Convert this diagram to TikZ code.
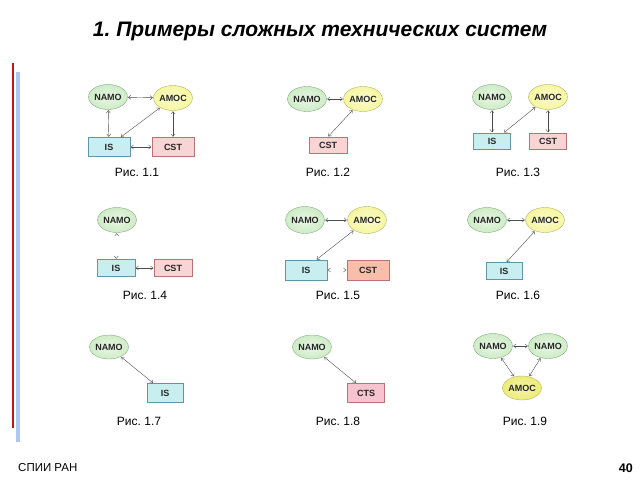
\documentclass[tikz,border=0pt]{standalone}
\usepackage{fontspec}
\setmainfont{Liberation Sans}
\usepackage{tikz}
\usetikzlibrary{shapes,arrows.meta,positioning}
\frenchspacing

\definecolor{namoFill}{RGB}{206,236,198}
\definecolor{namoDraw}{RGB}{130,172,130}
\definecolor{amocFill}{RGB}{246,246,160}
\definecolor{amocDraw}{RGB}{180,180,100}
\definecolor{amocDeep}{RGB}{236,236,120}
\definecolor{isFill}{RGB}{200,238,240}
\definecolor{isDraw}{RGB}{95,150,165}
\definecolor{cstFill}{RGB}{248,212,212}
\definecolor{cstDraw}{RGB}{185,115,115}
\definecolor{cstSalmon}{RGB}{248,190,170}
\definecolor{ctsFill}{RGB}{246,196,206}
\definecolor{barRed}{RGB}{200,20,25}
\definecolor{barBlue}{RGB}{170,200,240}

\begin{document}
\begin{tikzpicture}[
	x=1pt, y=-1pt,
		nodetext/.style={
			font=\fontsize{9}{10}\selectfont\bfseries,
			text=black!85,
			inner sep=0pt
		},
		namo/.style={
			nodetext,
			ellipse,
			draw=namoDraw,
			inner color=white!55!namoFill,
			outer color=namoFill,
			minimum width=33,
			minimum height=25
		},
		amoc/.style={
			namo,
			draw=amocDraw,
			inner color=white!50!amocFill,
			outer color=amocFill
		},
		sysbox/.style={
			nodetext,
			rectangle,
			draw=isDraw,
			fill=isFill,
			minimum width=40,
			minimum height=18
		},
		cst/.style={
			sysbox,
			draw=cstDraw,
			fill=cstFill
		},
		caption/.style={
			font=\fontsize{12}{14}\selectfont
		},
		link/.style={
			{Straight Barb[length=2.5pt,width=4pt]}-{Straight Barb[length=2.5pt,width=4pt]},
			draw=black!70,
			line width=0.4pt,
			shorten <=0.5pt,
			shorten >=0.5pt
		},
		tipsonly/.style={
			link,
			dash pattern=on 0pt off 100pt
		}
	]
	\useasboundingbox (0,0) rectangle (640,480);

	% Title
	\node[font=\fontsize{21}{25}\selectfont\bfseries\itshape] (title) at (320,31)
		{1. Примеры сложных технических систем};

	% Side bars
	\coordinate (redtop) at (13,63);
	\coordinate (redbot) at (13,428);
	\coordinate (bluetop) at (18,72);
	\coordinate (bluebot) at (18,442);
	\draw[barRed, line width=2.5] (redtop) -- (redbot);
	\draw[barBlue, line width=3.5] (bluetop) -- (bluebot);

	% Fig. 1.1
	\node[namo] (namoA) at (108,97) {NAMO};
	\node[amoc] (amocA) at (173,98) {AMOC};
	\node[sysbox, minimum width=42, minimum height=19] (isA) at (109,147) {IS};
	\node[cst, minimum width=42, minimum height=19] (cstA) at (173,147) {CST};
	\draw[link] (namoA) -- (amocA);
	\draw[link] (namoA) -- (isA);
	\draw[link] (amocA) -- (isA.40);
	\draw[link] (amocA) -- (cstA);
	\draw[link] (isA) -- (cstA);
	\node[caption] (capA) at (137,172) {Рис. 1.1};

	% Fig. 1.2
	\node[namo] (namoB) at (307,99) {NAMO};
	\node[amoc] (amocB) at (363,99) {AMOC};
	\node[cst, minimum width=38, minimum height=16] (cstB) at (328,145) {CST};
	\draw[link] (namoB) -- (amocB);
	\draw[link] (amocB) -- (cstB.north);
	\node[caption] (capB) at (328,172) {Рис. 1.2};

	% Fig. 1.3
	\node[namo, minimum width=31] (namoC) at (492,97) {NAMO};
	\node[amoc, minimum width=31] (amocC) at (548,97) {AMOC};
	\node[sysbox, minimum width=37, minimum height=16] (isC) at (492,141) {IS};
	\node[cst, minimum width=37, minimum height=16] (cstC) at (548,141) {CST};
	\draw[link] (namoC) -- (isC);
	\draw[link] (amocC) -- (isC.35);
	\draw[link] (amocC) -- (cstC);
	\node[caption] (capC) at (518,172) {Рис. 1.3};

	% Fig. 1.4
	\node[namo] (namoD) at (117,220) {NAMO};
	\node[sysbox, minimum width=38, minimum height=17] (isD) at (116,268) {IS};
	\node[cst, minimum width=38, minimum height=17] (cstD) at (173,268) {CST};
	\draw[tipsonly] (namoD) -- (isD);
	\draw[link] (isD) -- (cstD);
	\node[caption] (capD) at (145,295) {Рис. 1.4};

	% Fig. 1.5
	\node[namo, minimum width=37, minimum height=27] (namoE) at (305,220) {NAMO};
	\node[amoc, minimum width=37, minimum height=27] (amocE) at (367,220) {AMOC};
	\node[sysbox, minimum width=42, minimum height=20] (isE) at (306,270) {IS};
	\node[cst, fill=cstSalmon, minimum width=42, minimum height=20] (cstE) at (368,270) {CST};
	\draw[link] (namoE) -- (amocE);
	\draw[link] (amocE) -- (isE.45);
	\draw[tipsonly] (isE) -- (cstE);
	\node[caption] (capE) at (338,295) {Рис. 1.5};

	% Fig. 1.6
	\node[namo] (namoF) at (487,220) {NAMO};
	\node[amoc] (amocF) at (545,220) {AMOC};
	\node[sysbox, minimum width=36, minimum height=17] (isF) at (504,271) {IS};
	\draw[link] (namoF) -- (amocF);
	\draw[link] (amocF) -- (isF.75);
	\node[caption] (capF) at (518,295) {Рис. 1.6};

	% Fig. 1.7
	\node[namo, minimum width=31, minimum height=24] (namoG) at (109,347) {NAMO};
	\node[sysbox, minimum width=36, minimum height=19] (isG) at (165,393) {IS};
	\draw[link] (namoG) -- (isG.140);
	\node[caption] (capG) at (139,421) {Рис. 1.7};

	% Fig. 1.8
	\node[namo, minimum width=31, minimum height=24] (namoH) at (312,347) {NAMO};
	\node[cst, fill=ctsFill, minimum width=37, minimum height=19] (ctsH) at (366,393) {CTS};
	\draw[link] (namoH) -- (ctsH.135);
	\node[caption] (capH) at (338,421) {Рис. 1.8};

	% Fig. 1.9
	\node[namo] (namoI) at (493,346) {NAMO};
	\node[namo] (namoJ) at (548,346) {NAMO};
	\node[amoc, inner color=white!40!amocDeep, outer color=amocDeep,
		minimum width=31, minimum height=24] (amocI) at (522,388) {AMOC};
	\draw[link] (namoI) -- (namoJ);
	\draw[link] (namoI) -- (amocI);
	\draw[link] (namoJ) -- (amocI);
	\node[caption] (capI) at (525,421) {Рис. 1.9};

	% Footer
	\node[font=\fontsize{11.5}{13}\selectfont, anchor=west, inner sep=0pt] (lab) at (18,468) {СПИИ РАН};
	\node[font=\fontsize{12.5}{14}\selectfont\bfseries, anchor=east, inner sep=0pt] (page) at (633,468) {40};
\end{tikzpicture}
\end{document}
